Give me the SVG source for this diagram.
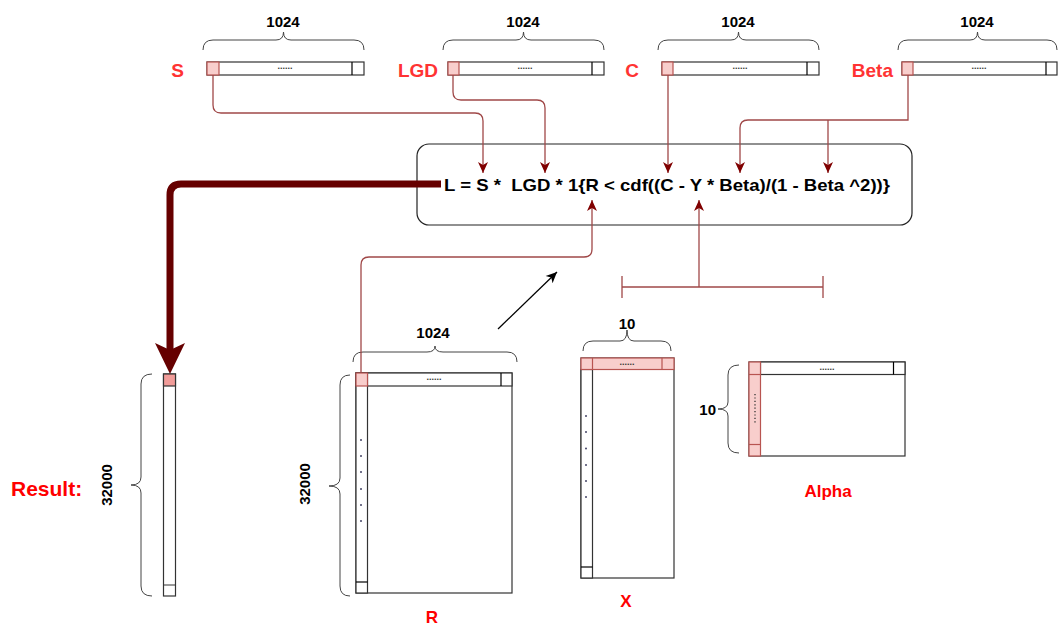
<svg xmlns="http://www.w3.org/2000/svg" width="1058" height="625" viewBox="0 0 1058 625">
<style>
  text { font-family: "Liberation Sans", Arial, sans-serif; font-weight: bold; }
  .lbl { fill: #ff3333; font-size: 19px; }
  .lblb { fill: #ff0000; font-size: 17px; }
  .num { fill: #000; font-size: 15px; }
  .dots { fill: #333; font-size: 9px; font-weight: bold; }
  .cell { fill: #fff; stroke: #333; stroke-width: 1.2; }
  .pink { fill: #f8cecc; stroke: #b85450; stroke-width: 1.2; }
  .brace { fill: none; stroke: #444; stroke-width: 1; }
  .conn { fill: none; stroke: #a04848; stroke-width: 1.3; }
  .vdot { fill: #446; }
</style>
<defs>
  <marker id="ah" markerUnits="userSpaceOnUse" markerWidth="12" markerHeight="12" viewBox="0 0 12 12" refX="11" refY="6" orient="auto">
    <path d="M0,1 L11,6 L0,11 L3,6 Z" fill="#800000"/>
  </marker>
  <marker id="ahb" markerUnits="userSpaceOnUse" markerWidth="12" markerHeight="12" viewBox="0 0 12 12" refX="11" refY="6" orient="auto">
    <path d="M0,1 L11,6 L0,11 L3,6 Z" fill="#000"/>
  </marker>
</defs>

<!-- Top vectors -->
<g id="vec-S">
  <text class="lbl" x="184" y="77" text-anchor="end">S</text>
  <path class="brace" d="M203 50 Q203 40 213 40 L276 40 Q283.5 40 283.5 32 Q283.5 40 291 40 L354 40 Q364 40 364 50"/>
  <text class="num" x="283" y="27" text-anchor="middle">1024</text>
  <rect class="cell" x="207" y="62" width="157" height="13"/>
  <rect class="pink" x="207" y="62" width="12" height="13"/>
  <line x1="352" y1="62" x2="352" y2="75" stroke="#000" stroke-width="1.2"/>
  <text class="dots" x="285" y="69" text-anchor="middle">......</text>
</g>
<g id="vec-LGD">
  <text class="lbl" x="438" y="77" text-anchor="end">LGD</text>
  <path class="brace" d="M443 50 Q443 40 453 40 L516 40 Q523.5 40 523.5 32 Q523.5 40 531 40 L594 40 Q604 40 604 50"/>
  <text class="num" x="523" y="27" text-anchor="middle">1024</text>
  <rect class="cell" x="448" y="62" width="156" height="13"/>
  <rect class="pink" x="448" y="62" width="11" height="13"/>
  <line x1="592" y1="62" x2="592" y2="75" stroke="#000" stroke-width="1.2"/>
  <text class="dots" x="525" y="69" text-anchor="middle">......</text>
</g>
<g id="vec-C">
  <text class="lbl" x="639" y="77" text-anchor="end">C</text>
  <path class="brace" d="M658 50 Q658 40 668 40 L731 40 Q738.5 40 738.5 32 Q738.5 40 746 40 L809 40 Q819 40 819 50"/>
  <text class="num" x="738" y="27" text-anchor="middle">1024</text>
  <rect class="cell" x="662" y="62" width="157" height="13"/>
  <rect class="pink" x="662" y="62" width="11" height="13"/>
  <line x1="807" y1="62" x2="807" y2="75" stroke="#000" stroke-width="1.2"/>
  <text class="dots" x="740" y="69" text-anchor="middle">......</text>
</g>
<g id="vec-Beta">
  <text class="lbl" x="893" y="77" text-anchor="end">Beta</text>
  <path class="brace" d="M898 50 Q898 40 908 40 L970 40 Q977.5 40 977.5 32 Q977.5 40 985 40 L1047 40 Q1057 40 1057 50"/>
  <text class="num" x="977" y="27" text-anchor="middle">1024</text>
  <rect class="cell" x="902" y="62" width="155" height="13"/>
  <rect class="pink" x="902" y="62" width="11" height="13"/>
  <line x1="1046" y1="62" x2="1046" y2="75" stroke="#000" stroke-width="1.2"/>
  <text class="dots" x="979" y="69" text-anchor="middle">......</text>
</g>

<!-- Formula -->
<g id="formula">
  <rect x="417" y="144" width="495" height="81" rx="12" ry="12" fill="#fff" stroke="#222" stroke-width="1.2"/>
  <text x="444" y="191" font-size="17" fill="#000" style="white-space:pre" textLength="446" lengthAdjust="spacingAndGlyphs">L = S *  LGD * 1{R &lt; cdf((C - Y * Beta)/(1 - Beta ^2))}</text>
</g>

<!-- Result -->
<g id="result">
  <text x="11" y="496" font-size="21" fill="#ff0000">Result:</text>
  <text class="num" transform="translate(107,485) rotate(-90)" x="0" y="5" text-anchor="middle">32000</text>
  <path class="brace" d="M152 374 Q141 374 141 384 L141 477 Q141 485 131 485 Q141 485 141 493 L141 586 Q141 596 152 596"/>
  <rect class="cell" x="163.5" y="374" width="12" height="222"/>
  <rect x="163.5" y="374" width="12" height="12" fill="#f19c99" stroke="#333" stroke-width="1.2"/>
  <line x1="163.5" y1="585" x2="175.5" y2="585" stroke="#333" stroke-width="1"/>
</g>

<!-- R matrix -->
<g id="matrix-R">
  <path class="brace" d="M353 362 Q353 352 363 352 L427 352 Q435 352 435 346 Q435 352 443 352 L507 352 Q517 352 517 362"/>
  <text class="num" x="433" y="338" text-anchor="middle">1024</text>
  <path class="brace" d="M350 375 Q340 375 340 385 L340 478 Q340 486 329 486 Q340 486 340 494 L340 586 Q340 596 350 596"/>
  <text class="num" transform="translate(305,484) rotate(-90)" x="0" y="5" text-anchor="middle">32000</text>
  <rect class="cell" x="356" y="373" width="156" height="220"/>
  <rect class="cell" x="356" y="373" width="156" height="13"/>
  <rect class="cell" x="356" y="373" width="11.5" height="220"/>
  <rect class="pink" x="356" y="373" width="11.5" height="13"/>
  <line x1="501" y1="373" x2="501" y2="386" stroke="#000" stroke-width="1.2"/>
  <line x1="356" y1="582" x2="367.5" y2="582" stroke="#000" stroke-width="1.2"/>
  <text class="dots" x="434" y="380" text-anchor="middle">......</text>
  <g class="vdot">
    <circle cx="361" cy="440" r="1"/><circle cx="361" cy="456" r="1"/><circle cx="361" cy="472" r="1"/>
    <circle cx="361" cy="489" r="1"/><circle cx="361" cy="505" r="1"/><circle cx="361" cy="521" r="1"/>
  </g>
  <text class="lblb" x="432" y="623" text-anchor="middle">R</text>
</g>

<!-- X matrix -->
<g id="matrix-X">
  <path class="brace" d="M583 351 Q583 341 593 341 L620 341 Q627 341 627 330 Q627 341 634 341 L661 341 Q671 341 671 351"/>
  <text class="num" x="627" y="329" text-anchor="middle">10</text>
  <rect class="cell" x="581" y="358" width="93" height="220"/>
  <rect class="cell" x="581" y="369.5" width="11.5" height="208.5"/>
  <rect class="pink" x="581" y="358" width="93" height="11.5"/>
  <line x1="592.5" y1="358" x2="592.5" y2="369.5" stroke="#b85450" stroke-width="1.2"/>
  <line x1="662" y1="358" x2="662" y2="369.5" stroke="#b85450" stroke-width="1.2"/>
  <line x1="581" y1="567" x2="592.5" y2="567" stroke="#000" stroke-width="1.2"/>
  <text class="dots" x="627" y="365" text-anchor="middle">......</text>
  <g class="vdot">
    <circle cx="586" cy="416" r="1"/><circle cx="586" cy="432" r="1"/><circle cx="586" cy="448.5" r="1"/>
    <circle cx="586" cy="465" r="1"/><circle cx="586" cy="481" r="1"/><circle cx="586" cy="497" r="1"/>
  </g>
  <text class="lblb" x="626" y="607" text-anchor="middle">X</text>
</g>

<!-- Alpha matrix -->
<g id="matrix-Alpha">
  <path class="brace" d="M739 365 Q728 365 728 375 L728 402 Q728 409 718 409 Q728 409 728 416 L728 443 Q728 453 739 453"/>
  <text class="num" x="716" y="415" text-anchor="end">10</text>
  <rect class="cell" x="749" y="362" width="156" height="94"/>
  <rect class="cell" x="760.5" y="362" width="144.5" height="12.5"/>
  <line x1="893.5" y1="362" x2="893.5" y2="374.5" stroke="#000" stroke-width="1.2"/>
  <rect class="pink" x="749" y="362" width="11.5" height="94"/>
  <line x1="749" y1="374.5" x2="760.5" y2="374.5" stroke="#b85450" stroke-width="1.2"/>
  <line x1="749" y1="444.5" x2="760.5" y2="444.5" stroke="#b85450" stroke-width="1.2"/>
  <text class="dots" x="827" y="370" text-anchor="middle">......</text>
  <line x1="755" y1="394" x2="755" y2="424" stroke="#333" stroke-width="1.3" stroke-dasharray="1.2 2.2"/>
  <text class="lblb" x="828" y="497" text-anchor="middle">Alpha</text>
</g>

<!-- Connectors -->
<g id="connectors">
  <path class="conn" d="M213 75 V105 Q213 113 221 113 H475 Q483 113 483 121 V173" marker-end="url(#ah)"/>
  <path class="conn" d="M453 75 V92 Q453 100 461 100 H537 Q545 100 545 108 V173" marker-end="url(#ah)"/>
  <path class="conn" d="M668 75 V173" marker-end="url(#ah)"/>
  <path class="conn" d="M908 75 V120 H748 Q740 120 740 128 V173" marker-end="url(#ah)"/>
  <path class="conn" d="M828 120 V173" marker-end="url(#ah)"/>
  <path class="conn" d="M361 373 V265 Q361 257 369 257 H584 Q592 257 592 249 V200" marker-end="url(#ah)"/>
  <path class="conn" d="M699 287 V200" marker-end="url(#ah)"/>
  <path class="conn" d="M622 287 H823 M622 276 V298 M823 276 V298"/>
  <path d="M498 329 L557 272" fill="none" stroke="#000" stroke-width="1.3" marker-end="url(#ahb)"/>
  <path d="M441 184 H181 Q170 184 170 195 V352" fill="none" stroke="#660000" stroke-width="7"/>
  <path d="M170 374 L155 343 L170 350 L185 343 Z" fill="#660000"/>
</g>
</svg>
